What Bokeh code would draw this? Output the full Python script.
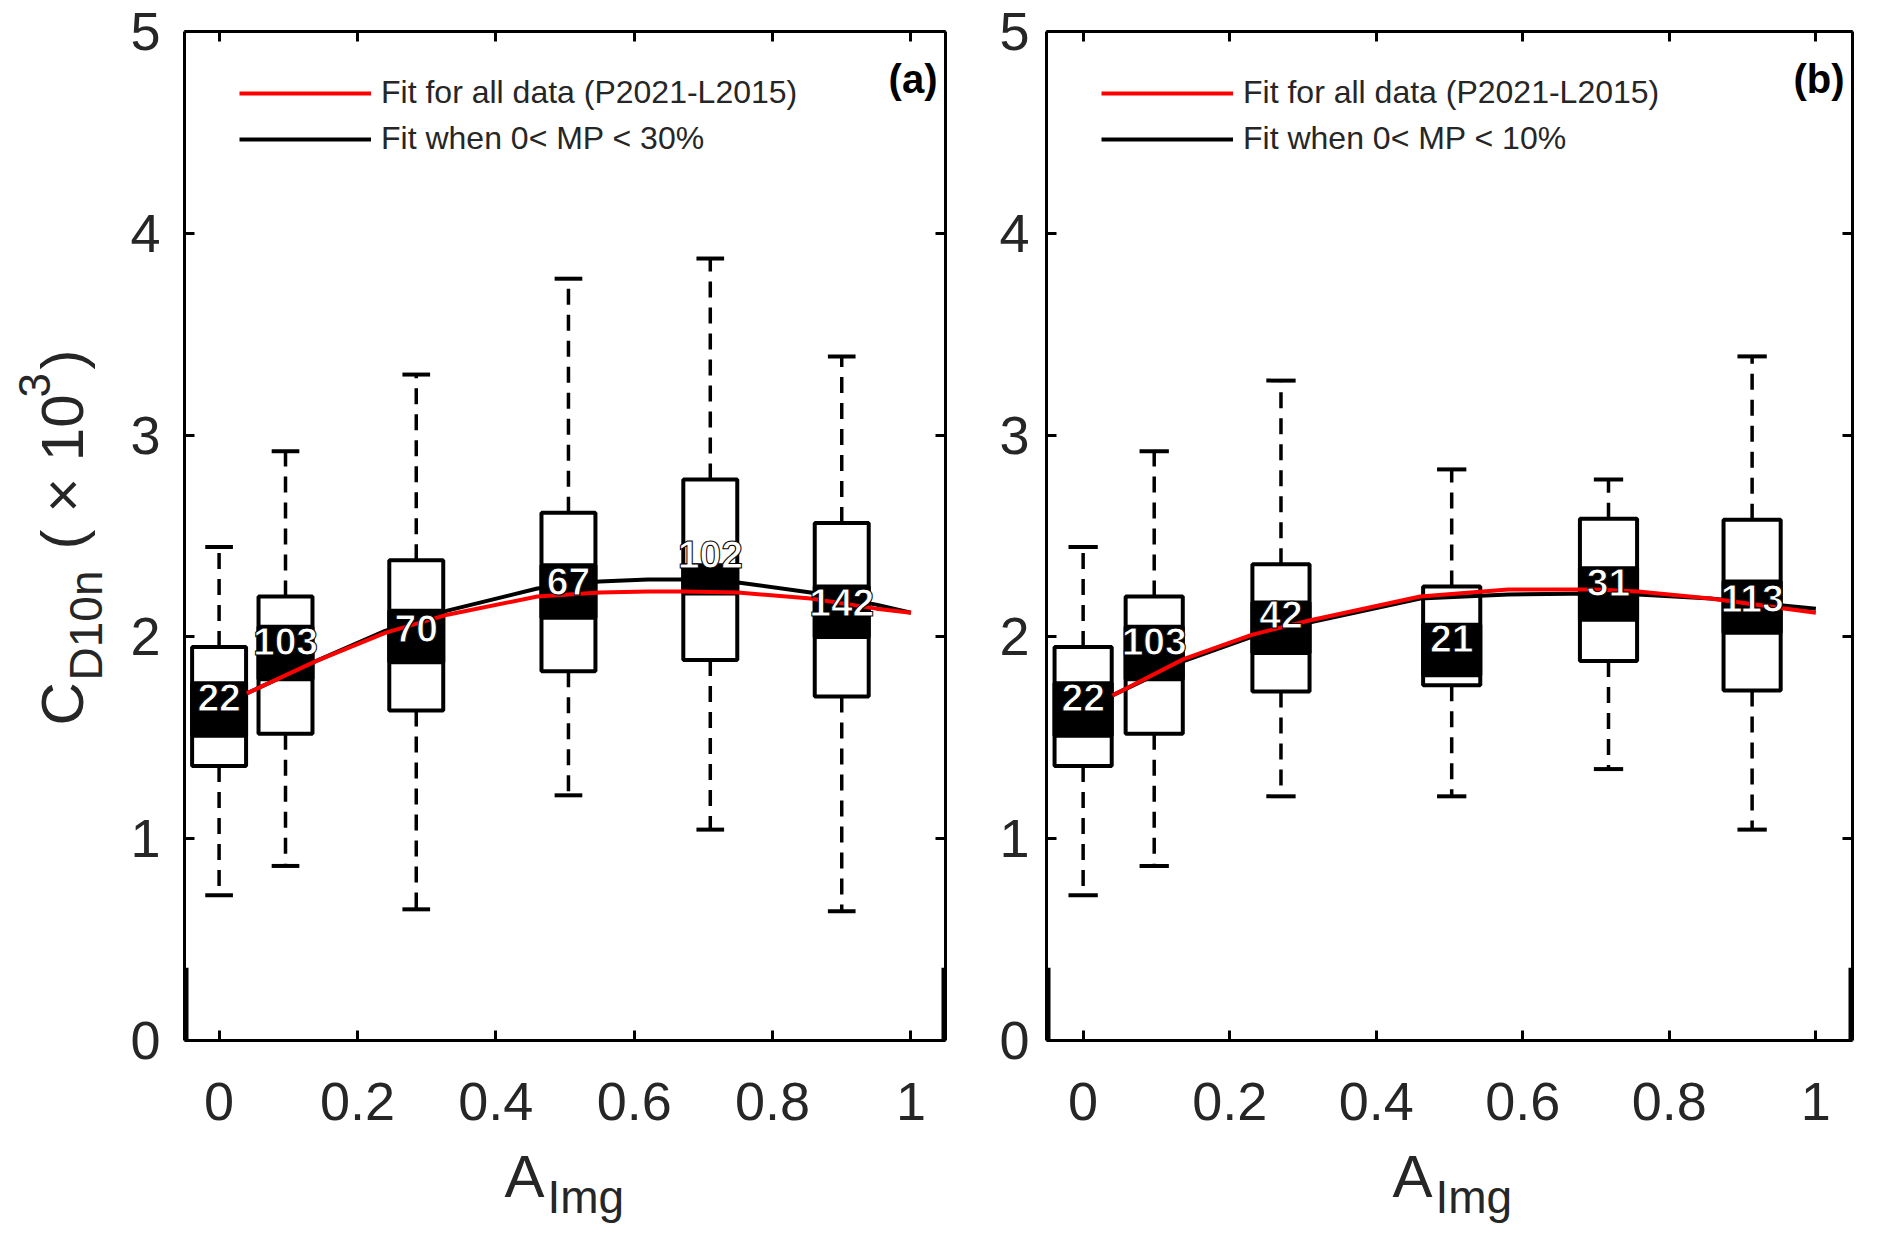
import numpy as np
from bokeh.plotting import figure
from bokeh.layouts import row
from bokeh.models import (ColumnDataSource, Label, Legend, LegendItem, LinearAxis,
                          Range1d, FixedTicker, CustomJSTickFormatter)
from bokeh.core.properties import value
from bokeh.embed import file_html
from bokeh.resources import INLINE

# ---- panel (a): all data, 0 < MP < 30 % ----
a_pos = [0.0, 0.096, 0.285, 0.505, 0.71, 0.9]
a_whisk_lo = [0.72, 0.865, 0.65, 1.215, 1.045, 0.64]
a_box_lo = [1.36, 1.52, 1.635, 1.83, 1.885, 1.705]
a_box_hi = [1.95, 2.20, 2.38, 2.615, 2.78, 2.565]
a_whisk_hi = [2.445, 2.92, 3.30, 3.775, 3.875, 3.39]
a_band_lo = [1.51, 1.79, 1.875, 2.095, 2.215, 2.0]
a_band_hi = [1.77, 2.05, 2.13, 2.355, 2.355, 2.25]
a_counts = [22, 103, 70, 67, 102, 142]
a_count_y = [1.70, 1.975, 2.04, 2.275, 2.41, 2.17]

a_fit_x = [0.04, 0.14, 0.24, 0.33, 0.46, 0.55, 0.62, 0.67, 0.75, 0.855, 0.95, 1.0]
a_fit_all = [1.72, 1.88, 2.02, 2.11, 2.20, 2.22, 2.225, 2.225, 2.22, 2.19, 2.14, 2.12]
a_fit_sub = [1.72, 1.88, 2.03, 2.13, 2.24, 2.275, 2.285, 2.285, 2.27, 2.22, 2.16, 2.12]

# ---- panel (b): 0 < MP < 10 % ----
b_pos = [0.0, 0.097, 0.27, 0.503, 0.717, 0.913]
b_whisk_lo = [0.72, 0.865, 1.21, 1.21, 1.345, 1.045]
b_box_lo = [1.36, 1.52, 1.73, 1.76, 1.88, 1.735]
b_box_hi = [1.95, 2.20, 2.36, 2.25, 2.585, 2.58]
b_whisk_hi = [2.445, 2.92, 3.27, 2.83, 2.78, 3.39]
b_band_lo = [1.51, 1.79, 1.92, 1.81, 2.085, 2.02]
b_band_hi = [1.77, 2.05, 2.17, 2.06, 2.34, 2.275]
b_counts = [22, 103, 42, 21, 31, 113]
b_count_y = [1.70, 1.975, 2.11, 1.99, 2.27, 2.19]

b_fit_x = [0.04, 0.137, 0.23, 0.307, 0.46, 0.58, 0.70, 0.757, 0.856, 1.0]
b_fit_all = [1.71, 1.89, 2.01, 2.08, 2.20, 2.235, 2.235, 2.225, 2.19, 2.12]
b_fit_sub = [1.71, 1.88, 2.00, 2.07, 2.19, 2.21, 2.215, 2.21, 2.19, 2.14]

x_ticks = [0, 0.2, 0.4, 0.6, 0.8, 1.0]
x_tick_labels = ["0", "0.2", "0.4", "0.6", "0.8", "1"]
y_ticks = [0, 1, 2, 3, 4, 5]

FONT = "Liberation Sans"
TXT = "#262626"
BOX_W = 0.078
CAP_W = 0.04
TOP_B = 31          # px above the plot box
BOX_H = 1009        # px for y = 0..5
EXT = 198           # px below y = 0 kept for tick labels and the x title
FRAME_H = BOX_H + EXT
ROW_H = TOP_B + FRAME_H
Y_LO = -5.0 * EXT / BOX_H
YLAB_W = 122


def no_title(f):
    if f.title is not None:
        f.title.visible = False
    f.title_location = None


def style_axis(ax, ticks, standoff, labels=True):
    ax.ticker = FixedTicker(ticks=ticks)
    ax.axis_label = None
    ax.axis_label_standoff = 0
    ax.axis_line_width = 3
    ax.axis_line_color = "black"
    ax.major_tick_line_width = 3
    ax.major_tick_line_color = "black"
    ax.major_tick_in = 10
    ax.major_tick_out = 0
    ax.minor_tick_line_color = None
    ax.major_label_text_font = FONT
    ax.major_label_text_font_size = "54px"
    ax.major_label_text_color = TXT
    ax.major_label_standoff = standoff
    if not labels:
        ax.formatter = CustomJSTickFormatter(code="return ''")
        ax.major_label_standoff = 0


def txt(f, s, x, y, size, angle=0, units="data"):
    f.add_layout(Label(x=x, y=y, x_units=units, y_units=units, text=s,
                       angle=angle, angle_units="deg",
                       text_font=FONT, text_font_size=size, text_color=TXT,
                       text_align="left", text_baseline="alphabetic"))


def make_panel(pos, wlo, blo, bhi, whi, nlo, nhi, counts, cy, fx, fall, fsub,
               sub_label, tag, border_l, frame_w, border_r, ystandoff, xlab_x):
    p = figure(frame_width=frame_w, frame_height=FRAME_H,
               min_border_left=border_l, min_border_right=border_r,
               min_border_top=TOP_B, min_border_bottom=0,
               x_range=Range1d(-0.05, 1.05), y_range=Range1d(Y_LO, 5),
               output_backend="svg", toolbar_location=None)
    no_title(p)
    p.outline_line_color = None
    p.xgrid.visible = False
    p.ygrid.visible = False
    p.background_fill_color = "white"
    p.border_fill_color = "white"

    # bottom axis sits at y = 0 inside the (taller) frame
    style_axis(p.xaxis[0], x_ticks, 42)
    p.xaxis[0].fixed_location = 0
    p.xaxis[0].major_label_overrides = dict(zip(x_ticks, x_tick_labels))
    style_axis(p.yaxis[0], y_ticks, ystandoff)
    p.yaxis[0].bounds = (0, 5)
    top = LinearAxis()
    style_axis(top, x_ticks, 0, labels=False)
    p.add_layout(top, "above")
    right = LinearAxis()
    style_axis(right, y_ticks, 0, labels=False)
    right.bounds = (0, 5)
    p.add_layout(right, "right")

    # thicker lower part of the side edges
    p.segment(x0=[-0.05, 1.05], y0=[0, 0], x1=[-0.05, 1.05], y1=[0.36, 0.36],
              line_color="black", line_width=8)

    pos = np.array(pos)
    src = ColumnDataSource(dict(x=pos, wlo=wlo, blo=blo, bhi=bhi, whi=whi,
                                nlo=nlo, nhi=nhi, cy=cy,
                                cx0=pos - CAP_W / 2, cx1=pos + CAP_W / 2,
                                n=[str(c) for c in counts]))
    p.segment(x0="x", y0="bhi", x1="x", y1="whi", source=src, line_color="black",
              line_width=3.5, line_dash="16 10")
    p.segment(x0="x", y0="blo", x1="x", y1="wlo", source=src, line_color="black",
              line_width=3.5, line_dash="16 10")
    p.segment(x0="cx0", y0="whi", x1="cx1", y1="whi", source=src, line_color="black", line_width=4)
    p.segment(x0="cx0", y0="wlo", x1="cx1", y1="wlo", source=src, line_color="black", line_width=4)
    p.vbar(x="x", width=BOX_W, bottom="blo", top="bhi", source=src,
           fill_color="white", line_color="black", line_width=4)
    p.vbar(x="x", width=BOX_W, bottom="nlo", top="nhi", source=src,
           fill_color="black", line_color="black", line_width=4)

    r_sub = p.line(fx, fsub, line_color="black", line_width=4)
    r_all = p.line(fx, fall, line_color="red", line_width=4)

    t = p.text(x="x", y="cy", text="n", source=src, text_align="center",
               text_baseline="middle", text_color="white", text_font=value(FONT),
               text_font_style="bold", text_font_size="39px")
    try:
        t.glyph.text_outline_color = "black"
    except Exception:
        pass

    legend = Legend(items=[LegendItem(label="Fit for all data (P2021-L2015)", renderers=[r_all]),
                           LegendItem(label=sub_label, renderers=[r_sub])],
                    location=(55, 883 + EXT), margin=0, padding=0,
                    glyph_width=132, glyph_height=30, label_height=30,
                    label_standoff=10, spacing=9,
                    label_text_font=FONT, label_text_font_size="32px",
                    label_text_color=TXT, border_line_color=None,
                    background_fill_alpha=0)
    p.add_layout(legend)

    p.add_layout(Label(x=frame_w - 8, y=FRAME_H - 47, x_units="screen", y_units="screen",
                       text=tag, text_align="right", text_baseline="alphabetic",
                       text_font=FONT, text_font_style="bold", text_font_size="40px",
                       text_color="black"))

    # x axis title A_Img
    txt(p, "A", xlab_x, 62, "60px", units="screen")
    txt(p, "Img", xlab_x + 43, 42, "46px", units="screen")
    return p


pa = make_panel(a_pos, a_whisk_lo, a_box_lo, a_box_hi, a_whisk_hi, a_band_lo, a_band_hi,
                a_counts, a_count_y, a_fit_x, a_fit_all, a_fit_sub,
                "Fit when 0< MP < 30%", "(a)", 184 - YLAB_W, 761, 45, 24, 320)
pb = make_panel(b_pos, b_whisk_lo, b_box_lo, b_box_hi, b_whisk_hi, b_band_lo, b_band_hi,
                b_counts, b_count_y, b_fit_x, b_fit_all, b_fit_sub,
                "Fit when 0< MP < 10%", "(b)", 56, 806, 8, 17, 346)

# y axis title C_D10n (x 10^3), rotated, built from pieces
ylab = figure(frame_width=YLAB_W, frame_height=ROW_H, min_border=0,
              x_range=Range1d(0, YLAB_W), y_range=Range1d(0, ROW_H),
              x_axis_location=None, y_axis_location=None,
              output_backend="svg", toolbar_location=None)
no_title(ylab)
ylab.outline_line_color = None
ylab.xgrid.visible = False
ylab.ygrid.visible = False
txt(ylab, "C", 62, 544, "60px", 90)
txt(ylab, "D10n", 85, 589, "46px", 90)
txt(ylab, "( \u00d7 10", 62, 720, "60px", 90)
txt(ylab, "3", 34, 872, "44px", 90)
txt(ylab, ")", 62, 900, "60px", 90)

layout = row(ylab, pa, pb)
open("out.html", "w").write(file_html(layout, INLINE, title="C_D10n vs A_Img"))
